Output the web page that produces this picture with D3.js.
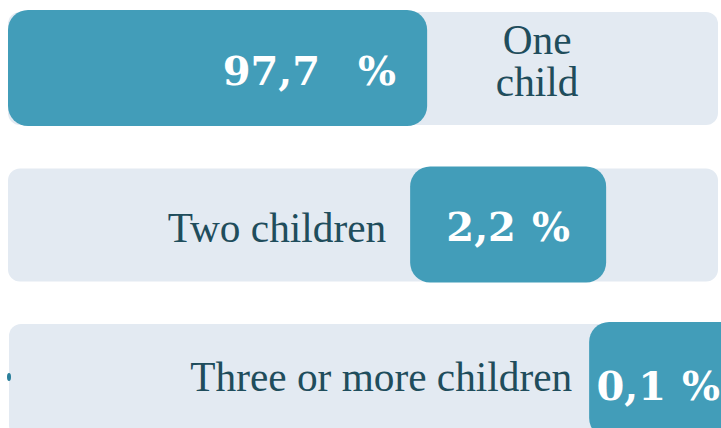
<!DOCTYPE html>
<html>
<head>
<meta charset="utf-8">
<script src="https://cdn.jsdelivr.net/npm/d3@7"></script>
<style>
  html, body { margin: 0; padding: 0; background: #ffffff; overflow: hidden; }
  svg { display: block; }
</style>
</head>
<body>
<svg id="chart" width="721" height="428"></svg>
<script>
// Share of families by number of children
const categories = ["One child", "Two children", "Three or more children"];
const labelLines = [["One", "child"], ["Two children"], ["Three or more children"]];
const values = [97.7, 2.2, 0.1];
const valueLabels = ["97,7", "2,2", "0,1"];

const W = 721, H = 428;
const TEAL = "#429db9";
const TRACK = "#e3eaf2";
const INK = "#1f4d5c";

const svg = d3.select("#chart");

// Horizontal value scale (percent of families)
const x = d3.scaleLinear().domain([0, 100]).range([8, 437]);

// One band per category
const y = d3.scaleBand()
  .domain(categories)
  .range([11, 11 + 425])
  .paddingInner(0.267)
  .paddingOuter(0);

const trackRight = 718;
const minBadge = 196;
const overlap = 17;

// Badge extents: the first bar grows from zero, each following badge
// continues from where the previous one ends (a staircase of shares).
const boxes = [];
values.forEach((v, i) => {
  const w = Math.max(x(v) - x(0), minBadge);
  const x0 = i === 0 ? x(0) : boxes[i - 1].x1 - overlap;
  boxes.push({ x0, x1: x0 + w });
});

const rows = svg.selectAll("g.row")
  .data(categories.map((c, i) => ({ c, i, v: values[i], box: boxes[i] })))
  .join("g")
  .attr("class", "row");

// Background track
rows.append("rect")
  .attr("x", d => x(0) + (d.i === 2 ? 1 : 0))
  .attr("y", d => y(d.c) + (d.i === 0 ? 1 : 2))
  .attr("width", d => trackRight - x(0))
  .attr("height", y.bandwidth() - 1)
  .attr("rx", 12)
  .attr("fill", TRACK);

// Value badge / bar
rows.append("rect")
  .attr("x", d => d.box.x0)
  .attr("y", d => y(d.c) - 1 + (d.i === 0 ? 0 : 1))
  .attr("width", d => d.box.x1 - d.box.x0)
  .attr("height", y.bandwidth() + 2)
  .attr("rx", 20)
  .attr("fill", TEAL);

// Tiny stub at the origin for the smallest share
rows.filter(d => d.v < 1).append("ellipse")
  .attr("cx", x(0) + 1)
  .attr("cy", d => y(d.c) + 55)
  .attr("rx", 2)
  .attr("ry", 4)
  .attr("fill", "#2a7f9b");

// Value labels: number + percent sign
rows.each(function (d) {
  const g = d3.select(this);
  const mid = y(d.c) + y.bandwidth() / 2;
  const t = g.append("text")
    .attr("x", 0)
    .attr("y", mid + 17)
    .attr("fill", "#ffffff")
    .attr("font-family", "'DejaVu Serif', serif")
    .attr("font-weight", "bold")
    .attr("font-size", 40);
  t.append("tspan").text(valueLabels[d.i]);
  t.append("tspan").attr("dx", d.i === 0 ? 38 : 16).text("%");
  const bb = t.node().getBBox();
  const len = bb.width;
  let tx;
  if (d.i === 0) {
    tx = d.box.x1 - 31 - len;
  } else {
    const cx = (d.box.x0 + d.box.x1) / 2;
    tx = Math.min(cx, W - 1 - len / 2) - len / 2;
  }
  t.attr("x", tx - bb.x);
  if (d.i === 2) t.attr("y", mid + 21);
});

// Category labels
rows.each(function (d) {
  const g = d3.select(this);
  const mid = y(d.c) + y.bandwidth() / 2;
  const lines = labelLines[d.i];
  if (d.i === 0) {
    lines.forEach((ln, k) => {
      g.append("text")
        .attr("fill", INK)
        .attr("font-family", "'Liberation Serif', 'Times New Roman', serif")
        .attr("font-size", 41.3)
        .attr("text-anchor", "middle")
        .attr("x", d.box.x1 + 110)
        .attr("y", mid - 14 + k * 42)
        .text(ln);
    });
  } else {
    g.append("text")
      .attr("fill", INK)
      .attr("font-family", "'Liberation Serif', 'Times New Roman', serif")
      .attr("font-size", 41.3)
      .attr("text-anchor", "end")
      .attr("x", d.box.x0 - (d.i === 1 ? 24 : 17))
      .attr("y", mid + (d.i === 2 ? 12 : 18))
      .text(lines[0]);
  }
});
</script>
</body>
</html>
